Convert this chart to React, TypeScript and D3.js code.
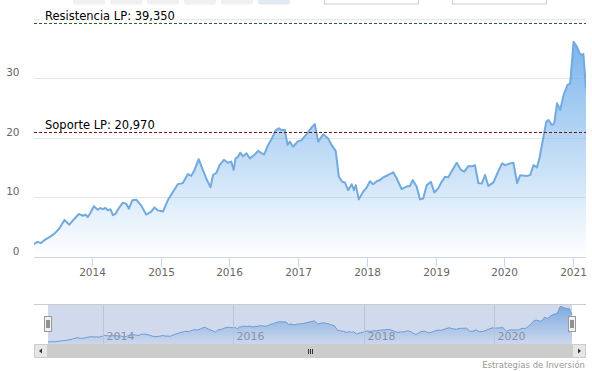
import React from "react";
import * as d3 from "d3";

const W = 592;
const H = 371;

const dates: string[] = [
  "2013-02-27","2013-03-17","2013-04-05","2013-04-23","2013-05-20","2013-06-16","2013-07-12","2013-08-08",
  "2013-09-03","2013-09-30","2013-10-23","2013-11-13","2013-11-27","2013-12-10","2013-12-24","2014-01-11",
  "2014-02-01","2014-02-15","2014-02-27","2014-03-14","2014-03-26","2014-04-09","2014-04-22","2014-05-06",
  "2014-05-18","2014-06-14","2014-07-02","2014-07-16","2014-08-03","2014-08-24","2014-09-20","2014-10-16",
  "2014-11-12","2014-11-29","2014-12-17","2015-01-13","2015-02-08","2015-03-07","2015-04-02","2015-04-17",
  "2015-04-29","2015-05-26","2015-06-13","2015-06-30","2015-07-22","2015-08-13","2015-09-04","2015-09-23",
  "2015-10-06","2015-10-24","2015-11-10","2015-12-03","2015-12-24","2016-01-11","2016-01-24","2016-02-03",
  "2016-02-15","2016-02-28","2016-03-13","2016-04-01","2016-04-19","2016-05-12","2016-06-02","2016-06-20",
  "2016-07-04","2016-07-25","2016-08-12","2016-09-02","2016-09-20","2016-10-04","2016-10-22","2016-11-05",
  "2016-11-18","2016-12-05","2016-12-28","2017-01-19","2017-02-14","2017-03-13","2017-03-30","2017-04-17",
  "2017-05-14","2017-06-09","2017-06-27","2017-07-19","2017-08-05","2017-08-23","2017-09-06","2017-09-23",
  "2017-10-12","2017-10-24","2017-11-03","2017-11-19","2017-12-12","2017-12-30","2018-01-17","2018-02-03",
  "2018-02-22","2018-03-11","2018-03-29","2018-04-24","2018-05-21","2018-06-08","2018-07-04","2018-07-31",
  "2018-08-18","2018-09-01","2018-09-22","2018-10-10","2018-10-27","2018-11-15","2018-12-07","2018-12-25",
  "2019-01-15","2019-02-02","2019-02-20","2019-03-09","2019-03-31","2019-04-23","2019-05-16","2019-06-02",
  "2019-06-24","2019-07-12","2019-07-29","2019-08-16","2019-09-03","2019-09-21","2019-10-08","2019-11-04",
  "2019-11-30","2019-12-20","2020-01-05","2020-02-01","2020-02-18","2020-03-09","2020-03-25","2020-05-01",
  "2020-05-18","2020-06-04","2020-06-22","2020-07-06","2020-07-27","2020-08-11","2020-08-23","2020-09-10",
  "2020-09-22","2020-10-07","2020-10-24","2020-11-11","2020-12-02","2020-12-16","2021-01-03","2021-01-21",
  "2021-02-04","2021-02-17","2021-02-24","2021-03-10",
];

const prices: number[] = [
  2.1, 2.5, 2.3, 2.8, 3.3, 3.9, 4.8, 6.2,
  5.4, 6.4, 7.2, 6.9, 7.1, 6.7, 7.4, 8.5,
  7.9, 8.2, 8.0, 8.2, 7.8, 8.0, 7.0, 7.2,
  7.9, 9.1, 8.9, 8.1, 9.5, 9.6, 8.6, 7.1,
  7.6, 8.3, 7.8, 7.6, 9.5, 10.9, 12.2, 12.3,
  12.4, 13.9, 13.6, 14.6, 16.4, 14.6, 12.9, 11.7,
  13.75, 14.1, 15.4, 16.3, 15.8, 16.0, 14.6, 16.55,
  16.8, 17.5, 16.9, 17.4, 16.55, 17.1, 17.8, 17.4,
  17.2, 18.8, 19.75, 21.2, 21.6, 21.3, 21.3, 18.8,
  19.35, 18.5, 19.35, 19.6, 20.6, 21.75, 22.3, 19.35,
  20.6, 19.9, 18.8, 17.8, 13.45, 12.6, 12.5, 11.2,
  12.2, 11.2, 12.05, 9.65, 10.95, 11.6, 12.7, 12.2,
  12.7, 12.9, 13.35, 13.75, 14.2, 13.2, 11.4, 11.8,
  11.9, 12.9, 11.8, 9.65, 9.8, 12.05, 12.6, 10.8,
  11.5, 12.6, 13.45, 13.35, 14.6, 15.8, 14.6, 14.3,
  15.25, 15.2, 15.4, 12.4, 12.3, 13.75, 11.9, 12.5,
  14.4, 15.7, 15.4, 15.7, 15.8, 12.4, 13.7, 13.6,
  13.75, 15.4, 15.0, 16.6, 20.2, 22.7, 23.0, 22.15,
  22.4, 25.8, 24.7, 27.2, 28.9, 29.15, 36.15, 35.3,
  34.2, 33.9, 34.1, 28.3,
];

const yTicks: number[] = [0, 10, 20, 30, 40];
const yTickLabels: string[] = ["0", "10", "20", "30", ""];
const xTickYears: number[] = [2014, 2015, 2016, 2017, 2018, 2019, 2020, 2021];
const navTickYears: number[] = [2014, 2016, 2018, 2020];
const plotLineValues: number[] = [39.35, 20.97];
const plotLineLabels: string[] = ["Resistencia LP: 39,350", "Soporte LP: 20,970"];
const plotLineColors: string[] = ["#2f5f2f", "#7a0f0f"];
const rangeButtonSelected: boolean[] = [false, false, false, false, false, true];
const creditText = "Estrategias de Inversión";

const FONT = "'DejaVu Sans', Verdana, sans-serif";

export default function App() {
  const parse = d3.timeParse("%Y-%m-%d");
  const data = dates.map((d, i) => ({ date: parse(d) as Date, value: prices[i] }));
  const ext = d3.extent(data, (d) => d.date) as [Date, Date];

  const plotLeft = 34;
  const plotRight = 586;
  const plotTop = 18.8;
  const plotBottom = 256.8;

  const x = d3.scaleTime().domain(ext).range([plotLeft, plotRight]);
  const y = d3.scaleLinear().domain([0, 40]).range([plotBottom, plotTop]);

  const area = d3
    .area<{ date: Date; value: number }>()
    .x((d) => x(d.date))
    .y0(y(0))
    .y1((d) => y(d.value));
  const line = d3
    .line<{ date: Date; value: number }>()
    .x((d) => x(d.date))
    .y((d) => y(d.value));

  // navigator
  const navLeft = 48;
  const navRight = 572;
  const navTop = 304;
  const navBottom = 344;
  const nx = d3.scaleTime().domain(ext).range([navLeft, navRight]);
  const vExt = d3.extent(prices) as [number, number];
  const ny = d3.scaleLinear().domain(vExt).range([342, 306.5]);
  const navArea = d3
    .area<{ date: Date; value: number }>()
    .x((d) => nx(d.date))
    .y0(navBottom)
    .y1((d) => ny(d.value));
  const navLine = d3
    .line<{ date: Date; value: number }>()
    .x((d) => nx(d.date))
    .y((d) => ny(d.value));

  const crisp = (v: number) => Math.round(v) + 0.5;
  const maxV = d3.max(prices) as number;

  const btnX0 = 73;
  const btnStep = 37;

  const scrollTop = 344;
  const scrollH = 14;

  return (
    <svg
      width={W}
      height={H}
      style={{ position: "absolute", left: 0, top: 0, fontFamily: FONT }}
    >
      <defs>
        <linearGradient id="mainGrad" gradientUnits="userSpaceOnUse" x1="0" y1={y(maxV)} x2="0" y2={y(0)}>
          <stop offset="0" stopColor="#7cb5ec" stopOpacity={1} />
          <stop offset="1" stopColor="#7cb5ec" stopOpacity={0} />
        </linearGradient>
        <linearGradient id="navGrad" gradientUnits="userSpaceOnUse" x1="0" y1={ny(maxV)} x2="0" y2={navBottom}>
          <stop offset="0" stopColor="#7cb5ec" stopOpacity={0.9} />
          <stop offset="1" stopColor="#7cb5ec" stopOpacity={0.05} />
        </linearGradient>
        <clipPath id="plotClip">
          <rect x={plotLeft} y={0} width={plotRight - plotLeft} height={plotBottom + 1} />
        </clipPath>
      </defs>
      <rect x={0} y={0} width={W} height={H} fill="#ffffff" />

      {/* range selector buttons (cut off at top) */}
      {rangeButtonSelected.map((sel, i) => (
        <rect
          key={"b" + i}
          x={btnX0 + i * btnStep}
          y={-18}
          width={32}
          height={22.5}
          rx={2}
          fill={sel ? "#e2e9f4" : "#f0f0f0"}
        />
      ))}
      <rect x={324.5} y={-20} width={94} height={24} fill="#fff" stroke="#cccccc" />
      <rect x={452.5} y={-20} width={94} height={24} fill="#fff" stroke="#cccccc" />

      {/* gridlines */}
      {yTicks.map((t) => (
        <line
          key={"g" + t}
          x1={plotLeft}
          x2={plotRight}
          y1={crisp(y(t))}
          y2={crisp(y(t))}
          stroke="#e6e6e6"
          strokeWidth={1}
        />
      ))}
      {yTicks.map((t, i) => (
        <text
          key={"yl" + t}
          x={19.5}
          y={y(t) - 2}
          textAnchor="end"
          fontSize={10.5}
          fill="#666666"
        >
          {yTickLabels[i]}
        </text>
      ))}

      {/* series */}
      <g clipPath="url(#plotClip)">
        <path d={area(data) || ""} fill="url(#mainGrad)" />
        <path d={line(data) || ""} fill="none" stroke="#72aade" strokeWidth={2} strokeLinejoin="round" />
      </g>

      {/* x axis */}
      <line x1={plotLeft} x2={plotRight} y1={257.5} y2={257.5} stroke="#ccd6eb" />
      {xTickYears.map((yr) => {
        const tx = crisp(x(new Date(yr, 0, 1)));
        return (
          <g key={"xt" + yr}>
            <line x1={tx} x2={tx} y1={257} y2={267} stroke="#ccd6eb" />
            <text x={tx} y={276} textAnchor="middle" fontSize={10.5} fill="#666666">
              {yr}
            </text>
          </g>
        );
      })}

      {/* plot lines */}
      {plotLineValues.map((v, i) => {
        const py = Math.round(y(v)) + 0.5;
        return (
          <g key={"pl" + i}>
            {i === 0 && <rect x={40} y={8} width={140} height={12} fill="#ffffff" />}
            <line
              x1={plotLeft}
              x2={plotRight}
              y1={py}
              y2={py}
              stroke={plotLineColors[i]}
              strokeWidth={1}
              strokeDasharray="3,2"
            />
            <text x={45} y={py - 3.3} fontSize={11.5} fill="#000000">
              {plotLineLabels[i]}
            </text>
          </g>
        );
      })}

      {/* navigator */}
      <path d={navArea(data) || ""} fill="url(#navGrad)" />
      <path d={navLine(data) || ""} fill="none" stroke="#6ea6dc" strokeWidth={1} />
      {navTickYears.map((yr) => {
        const tx = crisp(nx(new Date(yr, 0, 1)));
        return (
          <g key={"nt" + yr}>
            <line x1={tx} x2={tx} y1={navTop} y2={navBottom} stroke="#e0e0e0" />
            <text x={tx + 3} y={340} fontSize={11} fill="#999999">
              {yr}
            </text>
          </g>
        );
      })}
      <rect
        x={navLeft}
        y={navTop}
        width={navRight - navLeft}
        height={navBottom - navTop}
        fill="rgba(102,133,194,0.3)"
      />
      <line x1={plotLeft} x2={plotRight} y1={navTop + 0.5} y2={navTop + 0.5} stroke="#cccccc" />

      {/* handles */}
      {[navLeft, navRight].map((hx, i) => (
        <g key={"h" + i}>
          <rect x={hx - 3.5} y={316.5} width={7} height={15} fill="#f2f2f2" stroke="#999999" />
          <line x1={hx - 1} x2={hx - 1} y1={320} y2={328} stroke="#333" />
          <line x1={hx + 1} x2={hx + 1} y1={320} y2={328} stroke="#333" />
        </g>
      ))}

      {/* scrollbar */}
      <rect x={navLeft} y={scrollTop} width={navRight - navLeft} height={scrollH} fill="#cccccc" />
      {[0, 1, 2].map((k) => {
        const cx = (navLeft + navRight) / 2 - 2 + k * 2;
        return <line key={"gr" + k} x1={cx + 0.5} x2={cx + 0.5} y1={349} y2={354} stroke="#333333" />;
      })}
      <rect x={plotLeft + 0.5} y={scrollTop + 0.5} width={13} height={13} fill="#e6e6e6" stroke="#cccccc" />
      <path d={`M ${plotLeft + 5} ${scrollTop + 7} L ${plotLeft + 8} ${scrollTop + 4.5} L ${plotLeft + 8} ${scrollTop + 9.5} Z`} fill="#333333" />
      <rect x={navRight + 0.5} y={scrollTop + 0.5} width={13} height={13} fill="#e6e6e6" stroke="#cccccc" />
      <path d={`M ${navRight + 9} ${scrollTop + 7} L ${navRight + 6} ${scrollTop + 4.5} L ${navRight + 6} ${scrollTop + 9.5} Z`} fill="#333333" />

      {/* credits */}
      <text x={585} y={368} textAnchor="end" fontSize={8.5} fill="#999999">
        {creditText}
      </text>
    </svg>
  );
}
